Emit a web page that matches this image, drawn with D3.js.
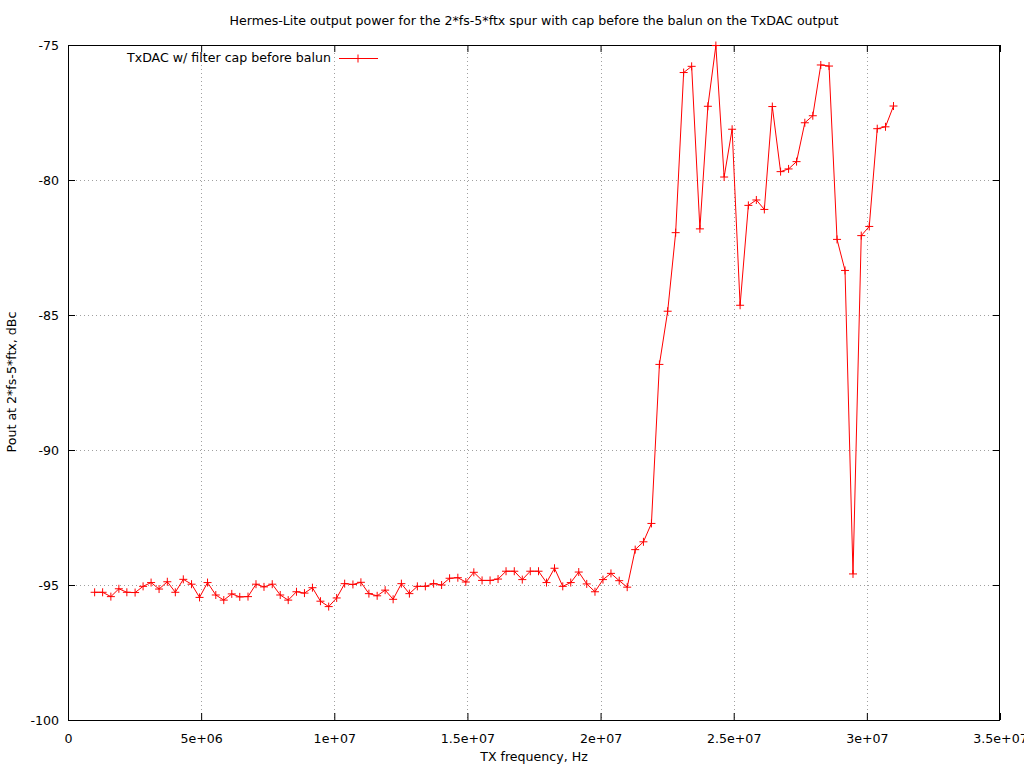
<!DOCTYPE html>
<html><head><meta charset="utf-8">
<script src="https://cdn.jsdelivr.net/npm/d3@7"></script>
<style>
body{margin:0;background:#fff;}
text{font-family:"DejaVu Sans",sans-serif;font-size:12.6px;fill:#000;}
</style></head>
<body>
<svg id="c" width="1024" height="768"></svg>
<script>
// TX frequency, MHz
const freqMHz = [1.00,1.30,1.61,1.91,2.21,2.52,2.82,3.12,3.42,3.73,4.03,4.33,4.64,4.94,5.24,5.55,5.85,6.15,6.45,6.76,
7.06,7.36,7.67,7.97,8.27,8.58,8.88,9.18,9.48,9.79,10.09,10.39,10.70,11.00,11.30,11.61,11.91,12.21,12.52,12.82,
13.12,13.42,13.73,14.03,14.33,14.64,14.94,15.24,15.55,15.85,16.15,16.45,16.76,17.06,17.36,17.67,17.97,18.27,18.58,18.88,
19.18,19.48,19.79,20.09,20.39,20.70,21.00,21.30,21.61,21.91,22.21,22.52,22.82,23.12,23.42,23.73,24.03,24.33,24.64,24.94,
25.24,25.55,25.85,26.15,26.45,26.76,27.06,27.36,27.67,27.97,28.27,28.58,28.88,29.18,29.48,29.79,30.09,30.39,30.70,31.00];
// Pout at 2*fs-5*ftx, dBc
const poutDbc = [-95.27,-95.27,-95.43,-95.14,-95.27,-95.28,-95.05,-94.91,-95.15,-94.88,-95.27,-94.79,-94.97,-95.46,-94.91,-95.37,-95.56,-95.33,-95.44,-95.43,
-94.97,-95.07,-94.97,-95.37,-95.56,-95.25,-95.30,-95.10,-95.60,-95.80,-95.48,-94.95,-94.98,-94.90,-95.32,-95.40,-95.19,-95.53,-94.95,-95.32,
-95.05,-95.05,-94.95,-95.00,-94.75,-94.73,-94.89,-94.53,-94.83,-94.83,-94.78,-94.49,-94.49,-94.80,-94.49,-94.49,-94.91,-94.38,-95.05,-94.91,
-94.52,-94.96,-95.25,-94.80,-94.57,-94.84,-95.08,-93.69,-93.40,-92.72,-86.83,-84.86,-81.95,-76.02,-75.79,-81.81,-77.27,-75.02,-79.89,-78.12,
-84.64,-80.94,-80.74,-81.09,-77.28,-79.69,-79.59,-79.32,-77.88,-77.62,-75.74,-75.78,-82.20,-83.35,-94.59,-82.06,-81.72,-78.10,-78.03,-77.26];
const xTicks = [0,5e6,1e7,1.5e7,2e7,2.5e7,3e7,3.5e7];
const xTickLabels = ["0","5e+06","1e+07","1.5e+07","2e+07","2.5e+07","3e+07","3.5e+07"];
const yTicks = [-100,-95,-90,-85,-80,-75];
const yTickLabels = ["-100","-95","-90","-85","-80","-75"];
const title = "Hermes-Lite output power for the 2*fs-5*ftx spur with cap before the balun on the TxDAC output";
const seriesName = "TxDAC w/ filter cap before balun";

const L=68, R=1000, T=45, B=720;
const svg = d3.select("#c");
const x = d3.scaleLinear().domain([0,3.5e7]).range([L,R]);
const y = d3.scaleLinear().domain([-100,-75]).range([B,T]);

// grid
const grid = svg.append("g").attr("stroke","#a0a0a0").attr("stroke-width",1).attr("stroke-dasharray","1,3");
xTicks.slice(1,-1).forEach(v=>grid.append("line").attr("x1",Math.round(x(v))+0.5).attr("x2",Math.round(x(v))+0.5).attr("y1",T).attr("y2",B));
yTicks.slice(1,-1).forEach(v=>grid.append("line").attr("y1",Math.round(y(v))+0.5).attr("y2",Math.round(y(v))+0.5).attr("x1",L).attr("x2",R));

// axes with inward ticks (mirrored)
const ax = svg.append("g");
const bx = d3.axisBottom(x).tickValues(xTicks).tickFormat((d,i)=>xTickLabels[i]).tickSize(-7).tickPadding(14);
ax.append("g").attr("transform",`translate(0,${B})`).call(bx);
ax.append("g").attr("transform",`translate(0,${T})`).call(d3.axisTop(x).tickValues(xTicks).tickSize(-7).tickFormat(""));
const ly = d3.axisLeft(y).tickValues(yTicks).tickFormat((d,i)=>yTickLabels[i]).tickSize(-7).tickPadding(9);
ax.append("g").attr("transform",`translate(${L},0)`).call(ly);
ax.append("g").attr("transform",`translate(${R},0)`).call(d3.axisRight(y).tickValues(yTicks).tickSize(-7).tickFormat(""));
ax.selectAll(".domain").remove();
ax.selectAll(".tick line").attr("stroke","#000");
ax.selectAll(".tick text").attr("font-family","DejaVu Sans").attr("font-size",12.6).attr("fill","#000");
svg.append("rect").attr("x",L+0.5).attr("y",T+0.5).attr("width",R-L-1).attr("height",B-T).attr("fill","none").attr("stroke","#000");

// series
const pts = freqMHz.map((f,i)=>[f*1e6, poutDbc[i]]);
svg.append("path").datum(pts).attr("fill","none").attr("stroke","#ff0000").attr("stroke-width",1)
  .attr("d", d3.line().x(d=>x(d[0])).y(d=>y(d[1])));
const plus = svg.append("g").attr("stroke","#ff0000").attr("stroke-width",1);
pts.forEach(d=>{
  const px=x(d[0]), py=y(d[1]);
  plus.append("line").attr("x1",px-4).attr("x2",px+4).attr("y1",py).attr("y2",py);
  plus.append("line").attr("x1",px).attr("x2",px).attr("y1",py-4).attr("y2",py+4);
});

// legend
svg.append("text").attr("x",331).attr("y",62).attr("text-anchor","end").text(seriesName);
svg.append("line").attr("x1",339).attr("x2",378).attr("y1",58.5).attr("y2",58.5).attr("stroke","#ff0000");
svg.append("line").attr("x1",358).attr("x2",358).attr("y1",54.5).attr("y2",62.5).attr("stroke","#ff0000");

// titles
svg.append("text").attr("x",534).attr("y",25).attr("text-anchor","middle").text(title);
svg.append("text").attr("x",534).attr("y",761).attr("text-anchor","middle").text("TX frequency, Hz");
svg.append("text").attr("transform","translate(16,382) rotate(-90)").attr("text-anchor","middle").text("Pout at 2*fs-5*ftx, dBc");
</script>
</body></html>
